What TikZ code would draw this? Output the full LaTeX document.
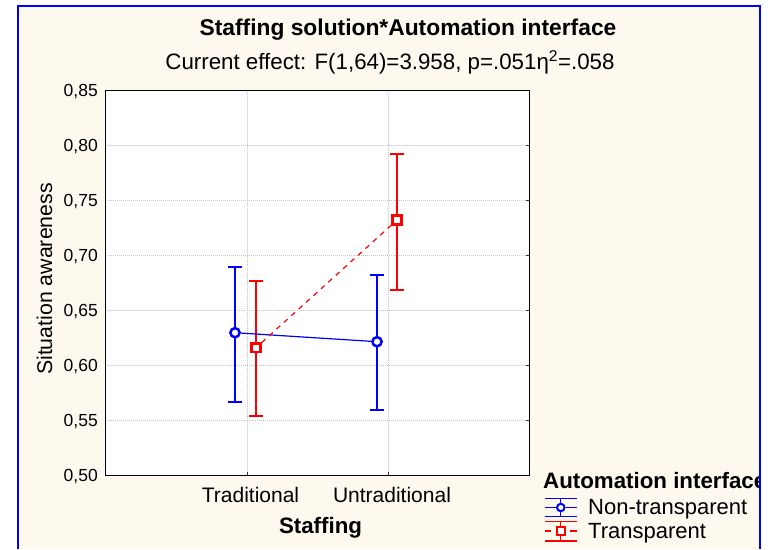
\documentclass[tikz,border=0pt]{standalone}
\usepackage{fontspec}
\setmainfont{Liberation Sans}
\definecolor{bgc}{RGB}{253,249,239}
\definecolor{gridc}{RGB}{196,196,196}
\definecolor{pblue}{RGB}{0,0,255}
\definecolor{pred}{RGB}{255,0,0}
\newcommand{\fs}[1]{\fontsize{#1}{#1}\selectfont}
\begin{document}
\begin{tikzpicture}[x=1pt,y=-1pt,
  txt/.style={inner sep=0pt, anchor=base},
  ticklab/.style={inner sep=0pt, anchor=base east, font=\fs{17.5}},
  gridline/.style={gridc, line width=0.9pt, dash pattern=on 1pt off 1pt},
  tickmark/.style={black!80, line width=0.7pt},
  errbar/.style={line width=1.2pt},
  bmark/.style={circle, draw=pblue, fill=white, line width=2.5pt, minimum size=9.2pt, inner sep=0pt},
  rmark/.style={rectangle, draw=pred, fill=white, line width=2.5pt, minimum size=8.8pt, inner sep=0pt},
  lbmark/.style={circle, draw=pblue, fill=white, line width=2pt, minimum size=7.5pt, inner sep=0pt},
  lrmark/.style={rectangle, draw=pred, fill=white, line width=2pt, minimum size=7.5pt, inner sep=0pt},
  bline/.style={pblue, line width=1.2pt},
  rline/.style={pred, line width=1.2pt, dash pattern=on 5pt off 5pt},
]
\useasboundingbox (0,0) rectangle (771,549);
% background panel
\fill[bgc] (18,6) rectangle (760,549);

% titles
\node[txt, font=\bfseries\fs{22.8}] (title) at (408,35) {Staffing solution*Automation interface};
\node[txt, font=\fs{22.3}] (subtitle) at (390,69) {Current effect: F(1,64)=3.958, p=.051η\textsuperscript{2}=.058};

% plot frame
\fill[white] (105,90) rectangle (529,475);
\foreach \k in {1,...,6} {
  \draw[gridline] (105,{90+55*\k}) -- (529,{90+55*\k});
}
\draw[gridline] (247,90) -- (247,475);
\draw[gridline] (388,90) -- (388,475);
\foreach \k in {1,...,6} {
  \draw[tickmark] (529,{90+55*\k}) -- (526,{90+55*\k});
}
\draw[tickmark] (247,475) -- (247,472);
\draw[tickmark] (388,475) -- (388,472);
\draw[black, line width=1pt] (105,90) rectangle (529,475);

% tick labels
\foreach \v [count=\k from 0] in {85,80,75,70,65,60,55,50} {
  \node[ticklab] (t\v) at (98,{90+55*\k+6.2}) {0,\v};
}

% axis titles
\node[txt, font=\fs{21}] (xtrad) at (250.5,502) {Traditional};
\node[txt, font=\fs{21}] (xuntrad) at (392,502) {Untraditional};
\node[txt, font=\bfseries\fs{22.3}] (xtitle) at (320.5,533) {Staffing};
\node[txt, font=\fs{21.3}, rotate=90] (ytitle) at (52,279) {Situation awareness};

% error bars
\draw[pblue, errbar] (228,267) -- (242,267) (235,267) -- (235,402) (228,402) -- (242,402);
\draw[pred, errbar] (249,281) -- (263,281) (256,281) -- (256,416) (249,416) -- (263,416);
\draw[pblue, errbar] (370,275) -- (384,275) (377,275) -- (377,410) (370,410) -- (384,410);
\draw[pred, errbar] (390,154) -- (404,154) (397,154) -- (397,290) (390,290) -- (404,290);

% means
\node[bmark] (bT) at (235,332.7) {};
\node[rmark] (rT) at (256,347.7) {};
\node[bmark] (bU) at (377,341.7) {};
\node[rmark] (rU) at (397,220) {};
\draw[bline] (bT) -- (bU);
\draw[rline] (rT) -- (rU);

% legend
\begin{scope}
  \clip (0,0) rectangle (759,549);
  \node[txt, anchor=base west, font=\bfseries\fs{22.3}] (legtitle) at (543,488) {Automation interface};
\end{scope}
\draw[pblue, line width=1.2pt] (545,498.3) -- (576.7,498.3) (545,516.7) -- (576.7,516.7) (560.8,498.3) -- (560.8,516.7);
\node[lbmark] (lb) at (560.8,507.5) {};
\draw[bline] (545,507.5) -- (lb.west) (lb.east) -- (576.7,507.5);
\node[txt, anchor=base west, font=\fs{22}] (legnt) at (588,514) {Non-transparent};

\draw[pred, line width=1.2pt] (545,521.7) -- (576.7,521.7) (545,541) -- (576.7,541) (560.8,521.7) -- (560.8,541);
\draw[pred, line width=1.2pt] (545,531) -- (551,531) (570,531) -- (576.7,531);
\node[lrmark] (lr) at (560.8,531) {};
\node[txt, anchor=base west, font=\fs{22}] (legt) at (588,538) {Transparent};

% outer blue border
\draw[pblue, line width=2.5pt] (18,549) -- (18,6) -- (760,6) -- (760,549);
\end{tikzpicture}
\end{document}
